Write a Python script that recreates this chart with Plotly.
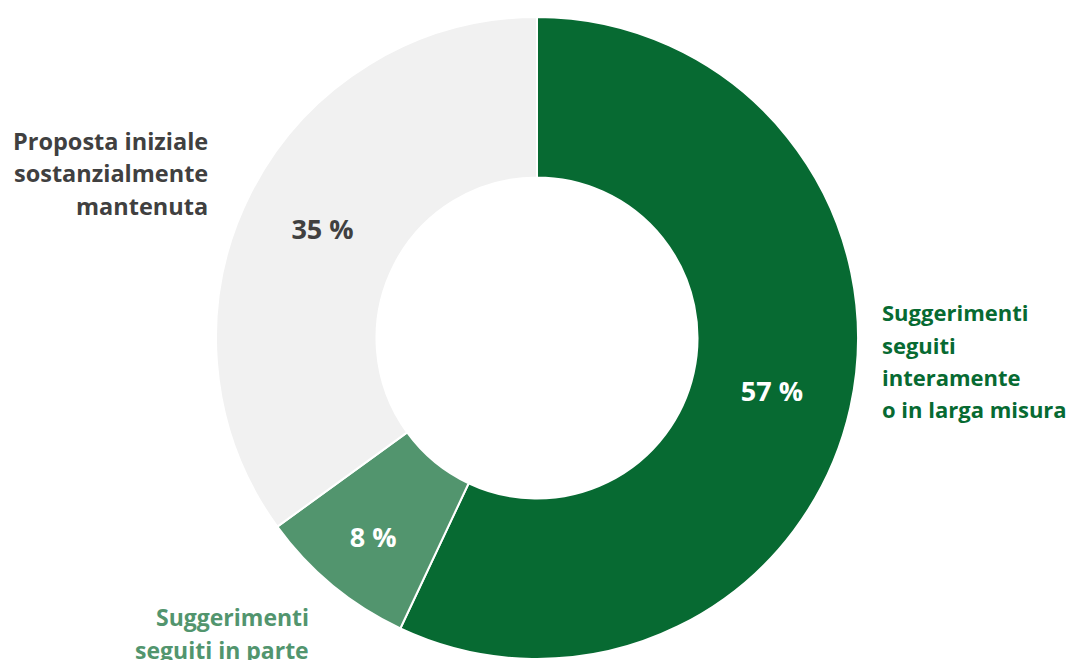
import plotly.graph_objects as go

categories = ["Suggerimenti seguiti interamente o in larga misura",
              "Suggerimenti seguiti in parte",
              "Proposta iniziale sostanzialmente mantenuta"]
values = [57, 8, 35]
pct_labels = ["57 %", "8 %", "35 %"]
colors = ["#076a32", "#52956e", "#f1f1f1"]
text_colors = ["#ffffff", "#ffffff", "#404040"]

label_lines = [
    ["Suggerimenti", "seguiti", "interamente", "o in larga misura"],
    ["Suggerimenti", "seguiti in parte"],
    ["Proposta iniziale", "sostanzialmente", "mantenuta"],
]
label_colors = ["#076a32", "#52956e", "#404040"]

W, H = 1078, 660
OFF = 8  # page body margin
FONT = "Open Sans"

fig = go.Figure(go.Pie(
    labels=categories,
    values=values,
    text=pct_labels,
    texttemplate="%{text}",
    textposition="inside",
    insidetextorientation="horizontal",
    textfont=dict(family=FONT, size=27, color=text_colors, weight="bold"),
    marker=dict(colors=colors, line=dict(color="#ffffff", width=2)),
    hole=0.5,
    sort=False,
    direction="clockwise",
    rotation=0,
    showlegend=False,
    domain=dict(x=[(216 - OFF) / W, (858 - OFF) / W],
                y=[1 - (659 - OFF) / H, 1 - (17 - OFF) / H]),
))

# label anchor positions (screen pixels): (x, first-line y, xanchor, size)
anchors = [(880, 312, "left", 22), (311, 617, "right", 23), (210, 141, "right", 23.5)]
line_gap = 32.5

annotations = []
for lines, col, (ax, ay, xa, fs) in zip(label_lines, label_colors, anchors):
    for i, line in enumerate(lines):
        annotations.append(dict(
            text=line, x=(ax - OFF) / W, y=1 - (ay - OFF + i * line_gap) / H,
            xref="paper", yref="paper", xanchor=xa, yanchor="middle",
            showarrow=False,
            font=dict(family=FONT, size=fs, color=col, weight="bold"),
        ))

fig.update_layout(
    width=W, height=H,
    margin=dict(l=0, r=0, t=0, b=0),
    paper_bgcolor="#ffffff",
    plot_bgcolor="#ffffff",
    annotations=annotations,
)

fig.write_html("out.html")
